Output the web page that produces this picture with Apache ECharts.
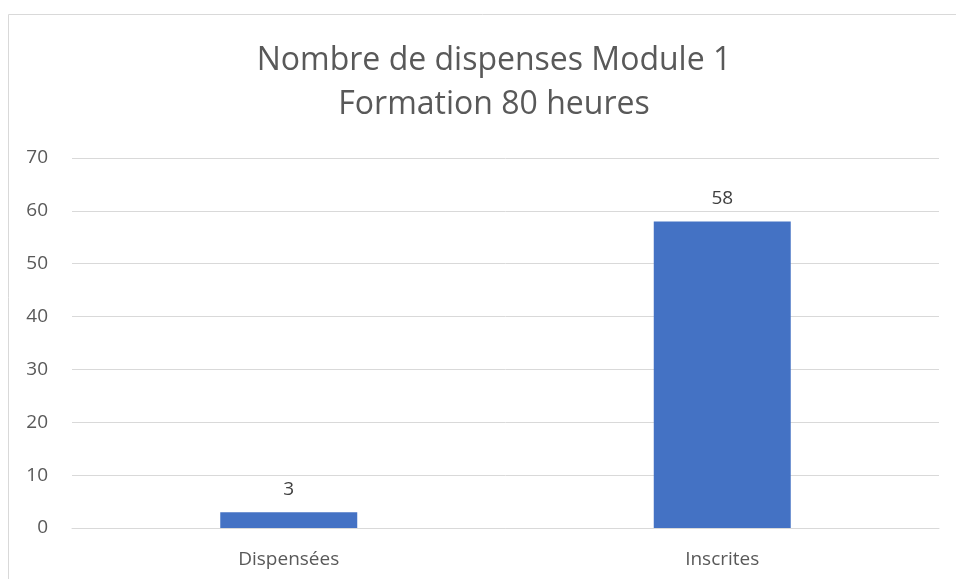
<!DOCTYPE html>
<html><head><meta charset="utf-8">
<script src="https://cdn.jsdelivr.net/npm/echarts@6/dist/echarts.min.js"></script>
<style>html,body{margin:0;padding:0;background:#fff}#c{width:956px;height:579px}</style>
</head><body><div id="c"></div>
<script>
const categories = ['Dispensées', 'Inscrites'];
const values = [3, 58];
const titleLines = ['Nombre de dispenses Module 1', 'Formation 80 heures'];
const FONT = 'Open Sans';
const chart = echarts.init(document.getElementById('c'));
chart.setOption({
  animation: false,
  graphic: [{type:'rect', shape:{x:8.5,y:14.5,width:1000,height:700}, style:{fill:'none', stroke:'#d9d9d9', lineWidth:1}}],
  title: {text: titleLines.join('\n'), left: 489, top: 34, textAlign: 'center',
    textStyle:{fontFamily:FONT, fontSize:32, fontWeight:'normal', color:'#595959', lineHeight:44}},
  grid: {left:72, right:17, top:158, bottom:51, containLabel:false},
  xAxis: {type:'category', data:categories,
    axisLine:{lineStyle:{color:'#d9d9d9'}}, axisTick:{show:false},
    axisLabel:{fontFamily:FONT, fontSize:19, color:'#595959', margin:22}},
  yAxis: {type:'value', min:0, max:70, interval:10,
    axisLine:{show:false}, axisTick:{show:false},
    splitLine:{lineStyle:{color:'#d9d9d9'}},
    axisLabel:{fontFamily:FONT, fontSize:19, color:'#595959', margin:24}},
  series: [{type:'bar', data:values, barWidth:'31.6%', itemStyle:{color:'#4472C4'},
    label:{show:true, position:'top', distance:13, fontFamily:FONT, fontSize:19, color:'#404040'}}]
});
</script></body></html>
